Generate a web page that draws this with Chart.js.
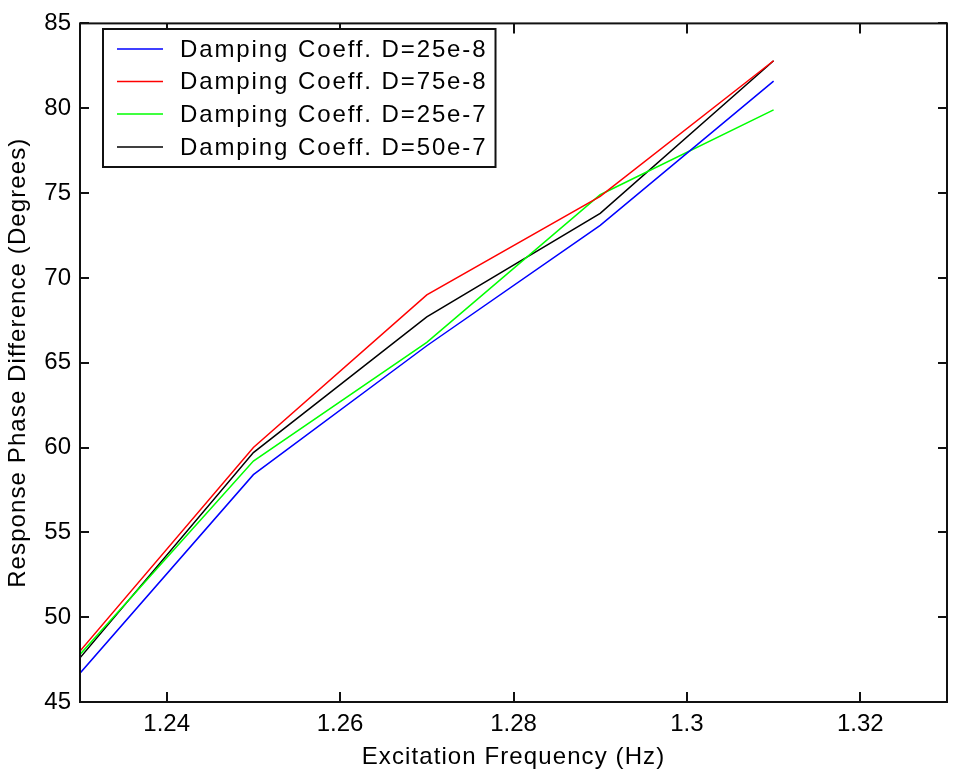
<!DOCTYPE html>
<html>
<head>
<meta charset="utf-8">
<script src="https://cdn.jsdelivr.net/npm/chart.js@4.4.0/dist/chart.umd.min.js"></script>
<style>
  html, body { margin: 0; padding: 0; background: #fff; }
  #wrap { width: 953px; height: 778px; }
</style>
</head>
<body>
<div id="wrap"><canvas id="phaseChart" width="953" height="778"></canvas></div>
<script>
// excitation frequency (Hz) for each sample
var frequencies = [1.23, 1.25, 1.27, 1.29, 1.31];

// response phase difference (degrees), one array per damping coefficient
var phaseD25e8 = [46.7, 58.4, 66.0, 73.1, 81.6];
var phaseD75e8 = [48.0, 60.0, 69.0, 74.8, 82.8];
var phaseD25e7 = [47.8, 59.2, 66.2, 74.9, 79.9];
var phaseD50e7 = [47.6, 59.7, 67.7, 73.8, 82.8];

var seriesLabels = ['Damping Coeff. D=25e-8', 'Damping Coeff. D=75e-8',
                    'Damping Coeff. D=25e-7', 'Damping Coeff. D=50e-7'];
var seriesColors = ['#0000ff', '#ff0000', '#00ff00', '#000000'];

var xTicks = [1.24, 1.26, 1.28, 1.3, 1.32];
var yTicks = [45, 50, 55, 60, 65, 70, 75, 80, 85];

var FONT = 'Arial, "Liberation Sans", sans-serif';

function toPoints(values) {
  var pts = [];
  for (var i = 0; i < frequencies.length; i++) {
    pts.push({ x: frequencies[i], y: values[i] });
  }
  return pts;
}

var allSeries = [phaseD25e8, phaseD75e8, phaseD25e7, phaseD50e7];
var datasets = [];
for (var s = 0; s < allSeries.length; s++) {
  datasets.push({
    label: seriesLabels[s],
    data: toPoints(allSeries[s]),
    borderColor: seriesColors[s],
    borderWidth: 1.5,
    pointRadius: 0,
    fill: false,
    tension: 0
  });
}

// the old figure font runs wider, so space the axis titles out a bit
function spaceTitle(scale) {
  if (scale._spaced) return;
  var orig = scale.drawTitle;
  scale.drawTitle = function() {
    this.ctx.save();
    this.ctx.letterSpacing = '1.1px';
    orig.call(this);
    this.ctx.restore();
  };
  scale._spaced = true;
}

// matlab style box with inward ticks on all four sides
var boxPlugin = {
  id: 'boxPlugin',
  afterDatasetsDraw: function(chart) {
    var ctx = chart.ctx, a = chart.chartArea;
    var xs = chart.scales.x, ys = chart.scales.y;
    ctx.save();
    ctx.strokeStyle = '#111';
    ctx.lineWidth = 2;
    ctx.beginPath();
    xTicks.forEach(function(v) {
      var px = Math.round(xs.getPixelForValue(v));
      ctx.moveTo(px, a.bottom); ctx.lineTo(px, a.bottom - 10);
      ctx.moveTo(px, a.top); ctx.lineTo(px, a.top + 10);
    });
    yTicks.forEach(function(v) {
      var py = Math.round(ys.getPixelForValue(v));
      ctx.moveTo(a.left, py); ctx.lineTo(a.left + 9, py);
      ctx.moveTo(a.right, py); ctx.lineTo(a.right - 9, py);
    });
    ctx.stroke();
    ctx.strokeRect(a.left, a.top, a.right - a.left, a.bottom - a.top);
    ctx.restore();
  }
};

// legend box in the upper left of the plot
var legendPlugin = {
  id: 'legendBox',
  afterDraw: function(chart) {
    var ctx = chart.ctx;
    ctx.save();
    ctx.font = '24px ' + FONT;
    ctx.letterSpacing = '1.9px';
    var textX = 180, rowY = [49, 81.5, 114, 147];
    var maxW = 0;
    seriesLabels.forEach(function(t) { maxW = Math.max(maxW, ctx.measureText(t).width); });
    var boxW = textX + maxW + 8 - 103;
    ctx.fillStyle = '#fff';
    ctx.fillRect(103, 29, boxW, 167 - 29);
    ctx.strokeStyle = '#111';
    ctx.lineWidth = 2;
    ctx.strokeRect(103, 29, boxW, 167 - 29);
    chart.data.datasets.forEach(function(ds, i) {
      ctx.strokeStyle = ds.borderColor;
      ctx.lineWidth = 1.5;
      ctx.beginPath();
      ctx.moveTo(117, rowY[i]); ctx.lineTo(163, rowY[i]);
      ctx.stroke();
      ctx.fillStyle = '#000';
      ctx.textBaseline = 'middle';
      ctx.fillText(ds.label, textX, rowY[i] + 1);
    });
    ctx.restore();
  }
};

var ctx = document.getElementById('phaseChart').getContext('2d');
var chart = new Chart(ctx, {
  type: 'line',
  data: { datasets: datasets },
  options: {
    responsive: false,
    animation: false,
    devicePixelRatio: 1,
    layout: { padding: { top: 16, right: 6, left: 0, bottom: 0 } },
    plugins: { legend: { display: false }, tooltip: { enabled: false } },
    scales: {
      x: {
        type: 'linear',
        min: 1.23,
        max: 1.33,
        afterBuildTicks: function(scale) {
          scale.ticks = xTicks.map(function(v) { return { value: v }; });
        },
        afterFit: function(scale) { scale.height = 76; spaceTitle(scale); },
        grid: { display: false, drawTicks: false },
        border: { display: false },
        ticks: {
          color: '#000',
          font: { family: FONT, size: 24 },
          padding: 8,
          maxRotation: 0,
          autoSkip: false,
          callback: function(v) { return String(v); }
        },
        title: {
          display: true,
          text: 'Excitation Frequency (Hz)',
          color: '#000',
          font: { family: FONT, size: 24 },
          padding: { top: 0, bottom: 6 }
        }
      },
      y: {
        min: 45,
        max: 85,
        afterBuildTicks: function(scale) {
          scale.ticks = yTicks.map(function(v) { return { value: v }; });
        },
        afterFit: function(scale) { scale.width = 80; spaceTitle(scale); },
        grid: { display: false, drawTicks: false },
        border: { display: false },
        ticks: {
          color: '#000',
          font: { family: FONT, size: 24 },
          padding: 9,
          autoSkip: false
        },
        title: {
          display: true,
          text: 'Response Phase Difference (Degrees)',
          color: '#000',
          font: { family: FONT, size: 24 },
          padding: { top: 4, bottom: 0 }
        }
      }
    }
  },
  plugins: [boxPlugin, legendPlugin]
});
</script>
</body>
</html>
